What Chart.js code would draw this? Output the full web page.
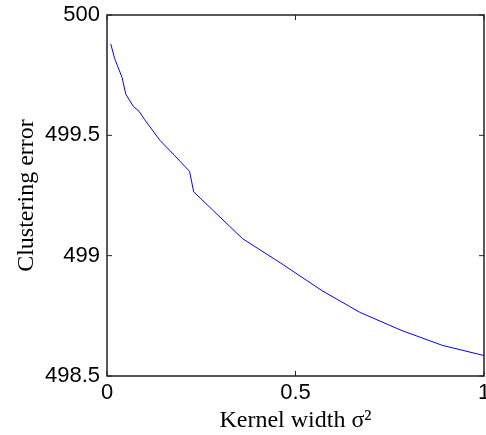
<!DOCTYPE html>
<html>
<head>
<meta charset="utf-8">
<script src="https://cdn.jsdelivr.net/npm/chart.js@4"></script>
<style>
  body{ margin:0; background:#fff; }
  #wrap{ width:486px; height:435px; }
</style>
</head>
<body>
<div id="wrap"><canvas id="chart" width="486" height="435"></canvas></div>
<script>
//--------------------------------------------------
// DATA
//--------------------------------------------------
const kernelWidth = [0.01, 0.02, 0.04, 0.05, 0.07, 0.085, 0.1, 0.14, 0.18, 0.219, 0.23, 0.28, 0.36, 0.46, 0.57, 0.67, 0.78, 0.89, 1.0];
const clusteringError = [499.88, 499.82, 499.74, 499.67, 499.62, 499.60, 499.565, 499.48, 499.415, 499.35, 499.265, 499.19, 499.07, 498.97, 498.855, 498.765, 498.69, 498.627, 498.585];
const xTicks = [0, 0.5, 1];
const yTicks = [498.5, 499, 499.5, 500];

//--------------------------------------------------
// box + inward ticks like the original figure
//--------------------------------------------------
const boxPlugin = {
  id:"box",
  afterDraw(chart){
    const {ctx, chartArea:a, scales} = chart;
    ctx.save();
    ctx.strokeStyle = "#222";
    ctx.lineWidth = 1;
    const t = 5;
    ctx.beginPath();
    xTicks.forEach(v=>{
      const px = scales.x.getPixelForValue(v);
      ctx.moveTo(px, a.bottom); ctx.lineTo(px, a.bottom - t);
      ctx.moveTo(px, a.top); ctx.lineTo(px, a.top + t);
    });
    yTicks.forEach(v=>{
      const py = scales.y.getPixelForValue(v);
      ctx.moveTo(a.left, py); ctx.lineTo(a.left + t, py);
      ctx.moveTo(a.right, py); ctx.lineTo(a.right - t, py);
    });
    ctx.stroke();
    ctx.lineWidth = 1.5;
    ctx.strokeRect(a.left, a.top, a.right - a.left, a.bottom - a.top);
    ctx.restore();
  }
};

const tickFont = { family:"'Liberation Sans', Arial, sans-serif", size:22 };
const titleFont = { family:"'Liberation Serif', 'Times New Roman', serif", size:24 };

function noPad(s){ s.paddingLeft = 0; s.paddingRight = 0; s.paddingTop = 0; s.paddingBottom = 0; }

new Chart(document.getElementById("chart"), {
  type:"line",
  data:{
    datasets:[{
      data: kernelWidth.map((x,i)=>({x, y:clusteringError[i]})),
      borderColor:"#0000ff",
      borderWidth:1,
      pointRadius:0,
      fill:false,
      tension:0
    }]
  },
  options:{
    responsive:false,
    animation:false,
    layout:{ padding:{ top:15, right:2, left:0, bottom:0 } },
    plugins:{ legend:{ display:false }, tooltip:{ enabled:false } },
    scales:{
      x:{
        type:"linear", min:0, max:1,
        afterBuildTicks: s => { s.ticks = xTicks.map(v=>({value:v})); },
        afterFit: s => { s.height = 59; noPad(s); },
        grid:{ display:false, drawTicks:false },
        border:{ display:false },
        ticks:{ color:"#000", font:tickFont, padding:4, maxRotation:0,
                callback: v => String(v) },
        title:{ display:true, text:"Kernel width σ²", color:"#000", font:titleFont, padding:{top:0,bottom:0} }
      },
      y:{
        type:"linear", min:498.5, max:500,
        afterBuildTicks: s => { s.ticks = yTicks.map(v=>({value:v})); },
        afterFit: s => { s.width = 107; noPad(s); },
        grid:{ display:false, drawTicks:false },
        border:{ display:false },
        ticks:{ color:"#000", font:tickFont, padding:7,
                callback: v => String(v) },
        title:{ display:true, text:"Clustering error", color:"#000", font:titleFont, padding:{top:12,bottom:0} }
      }
    }
  },
  plugins:[boxPlugin]
});
</script>
</body>
</html>
